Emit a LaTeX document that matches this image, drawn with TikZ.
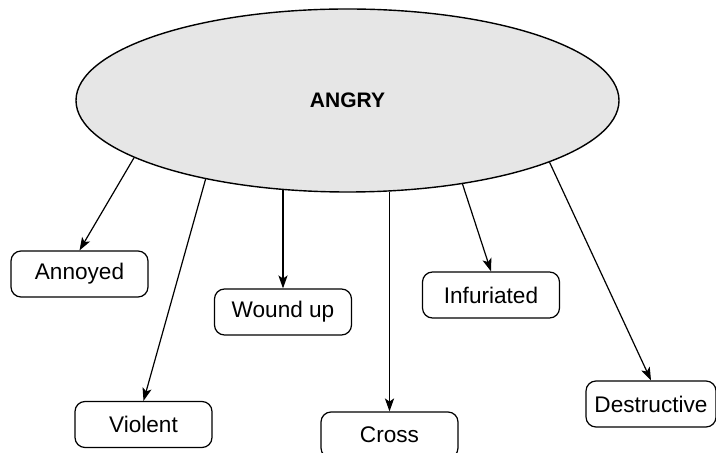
\documentclass[tikz,border=0pt]{standalone}
\usepackage{fontspec}
\setmainfont{Liberation Sans}
\usetikzlibrary{shapes.geometric,arrows.meta}

\definecolor{ovalfill}{HTML}{E6E6E6}

\tikzset{
  hub/.style={ellipse, draw, fill=ovalfill, line width=0.7pt,
    minimum width=271.5pt, minimum height=91.5pt, inner sep=0pt,
    font=\fontsize{10.5}{12}\selectfont\bfseries},
  wordbox/.style={draw, rounded corners=5pt, line width=0.6pt,
    minimum width=68.5pt, minimum height=23pt, inner sep=0pt,
    font=\fontsize{11.3}{13}\selectfont},
  link/.style={line width=0.6pt, -{Stealth[length=6.5pt,width=4.6pt,inset=1.6pt]}}
}

\begin{document}
\begin{tikzpicture}[x=0.5pt,y=-0.5pt]
  \clip (0,0) rectangle (716,453);
  \fill[white] (0,0) rectangle (716,453);

  % central feeling
  \node[hub] (angry) at (347.5,100.5) {ANGRY};

  % related words
  \node[wordbox] (annoyed)     at (79.5,274)  {Annoyed};
  \node[wordbox] (violent)     at (143.5,424.5) {Violent};
  \node[wordbox] (wound)       at (283,312)   {Wound up};
  \node[wordbox] (cross)       at (389.5,435) {Cross};
  \node[wordbox] (infuriated)  at (491,295)   {Infuriated};
  \node[wordbox, minimum width=65pt] (destructive) at (651,404) {Destructive};

  % connectors
  \draw[link] (angry.195.2) -- (annoyed.north);
  \draw[link] (angry.209.5) -- (violent.north);
  \draw[link] (angry.234 -| wound.north) -- (wound.north);
  \draw[link] (angry.295.2 -| cross.north) -- (cross.north);
  \draw[link] (angry.324.2) -- (infuriated.north);
  \draw[link] (angry.343.3) -- (destructive.north);
\end{tikzpicture}
\end{document}
